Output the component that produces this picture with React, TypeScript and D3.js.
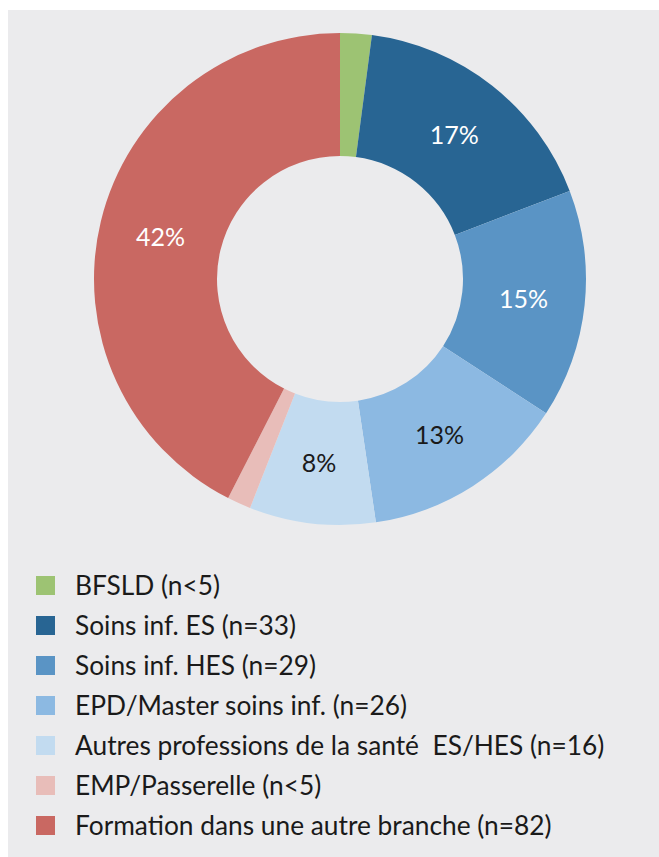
import React from "react";
import * as d3 from "d3";

const categories = [
  "BFSLD (n<5)",
  "Soins inf. ES (n=33)",
  "Soins inf. HES (n=29)",
  "EPD/Master soins inf. (n=26)",
  "Autres professions de la santé  ES/HES (n=16)",
  "EMP/Passerelle (n<5)",
  "Formation dans une autre branche (n=82)",
];
const counts = [4, 33, 29, 26, 16, 3, 82];
const sliceLabels = ["", "17%", "15%", "13%", "8%", "", "42%"];
const colors = ["#9dc373", "#286593", "#5a94c5", "#8cb9e2", "#c2dbf0", "#e8bdb9", "#c96862"];
const labelColors = ["#fff", "#fff", "#fff", "#1a1a1a", "#1a1a1a", "#fff", "#fff"];

const W = 659;
const H = 857;
const FONT = "Lato, 'Open Sans', sans-serif";

export default function App() {
  const cx = 340;
  const cy = 279;
  const outerR = 246;
  const innerR = 123;
  const pie = d3.pie<number>().sort(null).value((d) => d);
  const arcs = pie(counts);
  const arcGen = d3.arc<d3.PieArcDatum<number>>().innerRadius(innerR).outerRadius(outerR);
  const labelArc = d3
    .arc<d3.PieArcDatum<number>>()
    .innerRadius((innerR + outerR) / 2)
    .outerRadius((innerR + outerR) / 2);

  const legendY = d3.scaleBand<number>().domain(d3.range(categories.length)).range([576, 856]).paddingInner(0);

  return (
    <svg
      width={W}
      height={H}
      style={{ position: "absolute", left: 0, top: 0, display: "block" }}
      fontFamily={FONT}
    >
      <rect x={0} y={0} width={W} height={H} fill="#ffffff" />
      <rect x={8} y={10} width={W - 8} height={H - 10} fill="#ebebed" />
      <g transform={`translate(${cx},${cy})`}>
        {arcs.map((a, i) => (
          <path key={i} d={arcGen(a) || ""} fill={colors[i]} />
        ))}
        {arcs.map((a, i) => {
          if (!sliceLabels[i]) return null;
          const [x, y] = labelArc.centroid(a);
          return (
            <text
              key={"l" + i}
              x={x}
              y={y}
              textAnchor="middle"
              dominantBaseline="central"
              fontSize={25}
              fill={labelColors[i]}
            >
              {sliceLabels[i]}
            </text>
          );
        })}
      </g>
      <g>
        {categories.map((c, i) => {
          const y = legendY(i) as number;
          return (
            <g key={c} transform={`translate(0,${y})`}>
              <rect x={36} y={0} width={19} height={19} fill={colors[i]} />
              <text x={75} y={18.5} fontSize={26.3} fill="#1a1a1a" style={{ whiteSpace: "pre" }}>
                {c}
              </text>
            </g>
          );
        })}
      </g>
    </svg>
  );
}
